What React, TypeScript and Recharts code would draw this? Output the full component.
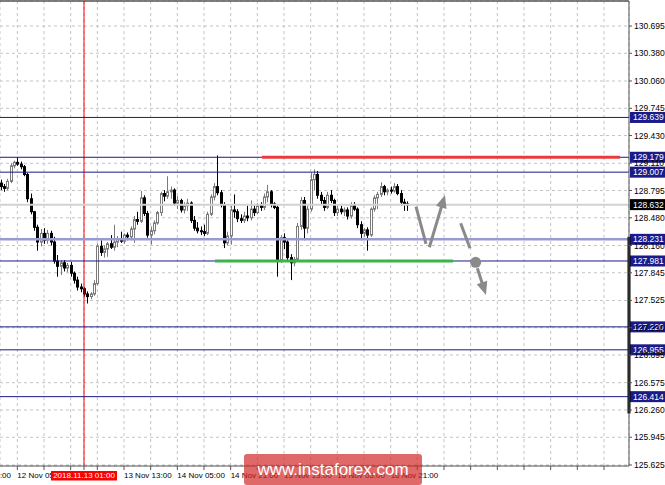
import React from 'react';
import { ComposedChart, Bar, XAxis, YAxis, CartesianGrid, ReferenceLine, ReferenceDot } from 'recharts';

const opens = [128.88,128.84,128.82,128.90,129.08,129.12,129.10,129.07,128.98,128.70,128.55,128.37,128.20,128.30,128.22,128.30,128.20,127.98,127.92,127.96,127.90,127.93,127.84,127.76,127.68,127.66,127.60,127.57,127.60,127.72,128.15,128.08,128.12,128.18,128.14,128.20,128.24,128.21,128.28,128.26,128.35,128.46,128.44,128.71,128.53,128.28,128.33,128.42,128.54,128.76,128.73,128.78,128.80,128.65,128.68,128.57,128.62,128.65,128.45,128.36,128.33,128.32,128.30,128.52,128.72,128.84,128.77,128.63,128.19,128.27,128.57,128.55,128.47,128.45,128.50,128.48,128.58,128.54,128.62,128.60,128.72,128.78,128.64,128.60,127.99,128.25,128.20,128.02,127.96,128.00,128.38,128.68,128.36,128.58,128.92,128.98,128.74,128.68,128.60,128.74,128.68,128.54,128.58,128.55,128.57,128.50,128.62,128.58,128.40,128.30,128.34,128.28,128.58,128.71,128.75,128.84,128.78,128.80,128.79,128.84,128.76,128.66,128.64];
const highs = [128.92,128.87,128.93,129.11,129.14,129.18,129.13,129.09,129.00,128.76,128.56,128.40,128.35,128.36,128.34,128.33,128.26,128.05,127.99,127.99,127.96,127.97,127.86,127.80,127.72,127.68,127.63,127.62,127.76,128.18,128.22,128.16,128.20,128.28,128.40,128.27,128.32,128.30,128.31,128.38,128.50,128.55,128.79,128.74,128.56,128.38,128.45,128.56,128.78,128.80,128.96,128.84,128.82,128.73,128.70,128.66,128.70,128.67,128.50,128.43,128.38,128.40,128.55,128.75,128.88,129.20,128.80,128.66,128.32,128.62,128.75,128.58,128.52,128.55,128.62,128.68,128.62,128.65,128.66,128.76,128.86,128.80,128.66,128.62,128.28,128.30,128.22,128.06,128.03,128.42,128.72,128.72,128.62,129.00,129.04,129.02,128.78,128.72,128.78,128.80,128.70,128.62,128.62,128.60,128.60,128.66,128.66,128.60,128.44,128.36,128.37,128.60,128.74,128.78,128.89,128.86,128.82,128.84,128.88,128.87,128.80,128.70,128.67];
const lows = [128.80,128.78,128.80,128.88,129.05,129.08,129.04,128.96,128.66,128.52,128.33,128.10,128.15,128.18,128.18,128.16,127.95,127.80,127.82,127.86,127.85,127.80,127.72,127.64,127.62,127.57,127.49,127.54,127.58,127.70,128.04,128.02,128.03,128.12,128.10,128.14,128.19,128.18,128.22,128.22,128.19,128.40,128.42,128.50,128.25,128.17,128.29,128.40,128.50,128.67,128.70,128.70,128.62,128.58,128.54,128.53,128.56,128.42,128.33,128.30,128.28,128.27,128.28,128.50,128.68,128.74,128.60,128.13,128.16,128.17,128.48,128.43,128.42,128.42,128.44,128.45,128.50,128.52,128.56,128.57,128.66,128.60,128.58,127.80,127.96,128.12,127.98,127.76,127.92,127.97,128.34,128.22,128.30,128.55,128.80,128.70,128.63,128.56,128.58,128.65,128.50,128.50,128.52,128.50,128.46,128.47,128.56,128.36,128.22,128.26,128.10,128.26,128.55,128.58,128.72,128.74,128.74,128.76,128.77,128.74,128.62,128.56,128.56];
const closes = [128.84,128.82,128.90,129.08,129.12,129.10,129.07,128.98,128.70,128.55,128.37,128.20,128.30,128.22,128.30,128.20,127.98,127.92,127.96,127.90,127.93,127.84,127.76,127.68,127.66,127.60,127.57,127.60,127.72,128.15,128.08,128.12,128.18,128.14,128.20,128.24,128.21,128.28,128.26,128.35,128.46,128.44,128.71,128.53,128.28,128.33,128.42,128.54,128.76,128.73,128.78,128.80,128.65,128.68,128.57,128.62,128.65,128.45,128.36,128.33,128.32,128.30,128.52,128.72,128.84,128.77,128.63,128.19,128.27,128.57,128.55,128.47,128.45,128.50,128.48,128.58,128.54,128.62,128.60,128.72,128.78,128.64,128.60,127.99,128.25,128.20,128.02,127.96,128.00,128.38,128.68,128.36,128.58,128.92,128.98,128.74,128.68,128.60,128.74,128.68,128.54,128.58,128.55,128.57,128.50,128.62,128.58,128.40,128.30,128.34,128.28,128.58,128.71,128.75,128.84,128.78,128.80,128.79,128.84,128.76,128.66,128.64,128.632];

const yTicks = [130.695, 130.38, 130.06, 129.745, 129.43, 129.11, 128.795, 128.48, 128.16, 127.845, 127.525, 127.21, 126.895, 126.575, 126.26, 125.945, 125.625];
const markerBar = 25;
const markerLabel = '2018.11.13 01:00';
const xTickValues = [-11, -3, 5, 13, 21, 25, 29, 37, 45, 53, 61, 69, 77, 85, 93, 101, 109, 117, 125, 133, 141, 149, 157, 165, 173, 181];
const xLabelValues = [-11, 5, 37, 53, 69, 85, 101, 117];
const xLabelTexts = ['11 Nov 13:00', '12 Nov 05:00', '13 Nov 13:00', '14 Nov 05:00', '14 Nov 21:00', '15 Nov 13:00', '16 Nov 05:00', '16 Nov 21:00'];

const navyLevels = [129.639, 129.179, 129.007, 127.981, 127.22, 126.955, 126.414];
const supportLevel = 128.231;
const bidPrice = 128.632;
const resistanceSegment = { price: 129.179, from: 78.4, to: 185.8 };
const supportSegment = { price: 127.981, from: 64.3, to: 135.7 };
const axisBand = { x: 188.5, from: 128.26, to: 126.22 };

const arrowUpLeg = [{ x: 124.6, y: 128.608 }, { x: 127.6, y: 128.178 }];
const arrowUp = [{ x: 128.6, y: 128.14 }, { x: 133.3, y: 128.744 }];
const arrowDownLeg = [{ x: 138.0, y: 128.417 }, { x: 140.8, y: 128.128 }];
const pivotDot = { x: 142.5, y: 127.966 };
const arrowDown = [{ x: 143.0, y: 127.897 }, { x: 145.6, y: 127.589 }];

const data = opens.map((o, i) => ({
  i,
  open: o,
  high: highs[i],
  low: lows[i],
  close: closes[i],
  range: [lows[i], highs[i]],
}));

const FONT = '"Liberation Sans", Arial, sans-serif';
const NAVY = '#1a1a88';
const ARROW = '#8a8a8a';

function Candle(props: any) {
  const { x, y, width, height, payload } = props;
  if (!payload) return <g />;
  const { open: o, close: c, high: h, low: l } = payload;
  const span = h - l;
  const k = span > 0 ? height / span : 0;
  const c0 = Math.round(x + width / 2) + 0.5;
  const yo = y + (h - o) * k;
  const yc = y + (h - c) * k;
  const bull = c >= o;
  const top = Math.min(yo, yc);
  const bh = Math.max(1, Math.abs(yo - yc));
  const col = bull ? '#7a7a7a' : '#000';
  return (
    <g>
      <line x1={c0} x2={c0} y1={y} y2={y + height} stroke={col} strokeWidth={1} />
      <rect x={c0 - 1} y={top} width={2} height={bh} fill={bull ? '#fff' : '#000'} stroke={col} strokeWidth={1} />
    </g>
  );
}

function XTick(props: any) {
  const { x, y, payload } = props;
  if (payload.value === markerBar) {
    return (
      <g>
        <rect x={x - 33} y={y - 1} width={66} height={9.5} fill="#ff0000" />
        <text x={x} y={y + 6.2} fontSize={8} fill="#fff" fontFamily={FONT} textAnchor="middle">{markerLabel}</text>
      </g>
    );
  }
  const idx = xLabelValues.indexOf(payload.value);
  if (idx < 0) return <g />;
  return (
    <text x={x} y={y} dy="0.71em" fontSize={8} fill="#000" fontFamily={FONT} textAnchor="start">
      {xLabelTexts[idx]}
    </text>
  );
}

function PriceTag(props: any) {
  const { viewBox, value, bg } = props;
  if (!viewBox) return <g />;
  const right = viewBox.x + viewBox.width;
  const yy = viewBox.y;
  return (
    <g>
      <rect x={right + 1} y={yy - 5.5} width={36} height={11} fill={bg} />
      <text x={right + 4} y={yy + 3} fontSize={8.5} fill="#fff" fontFamily={FONT}>{value.toFixed(3)}</text>
    </g>
  );
}

function ArrowShape(props: any) {
  const { x1, y1, x2, y2, head } = props;
  if ([x1, y1, x2, y2].some((v) => typeof v !== 'number' || isNaN(v))) return <g />;
  const dx = x2 - x1;
  const dy = y2 - y1;
  const len = Math.sqrt(dx * dx + dy * dy) || 1;
  const ux = dx / len;
  const uy = dy / len;
  const hl = 13;
  const hw = 5.5;
  const ex = head ? x2 - ux * (hl - 2) : x2;
  const ey = head ? y2 - uy * (hl - 2) : y2;
  const bx = x2 - ux * hl;
  const by = y2 - uy * hl;
  return (
    <g>
      <line x1={x1} y1={y1} x2={ex} y2={ey} stroke={ARROW} strokeWidth={3} />
      {head && (
        <polygon
          points={`${x2},${y2} ${bx - uy * hw},${by + ux * hw} ${bx + uy * hw},${by - ux * hw}`}
          fill={ARROW}
        />
      )}
    </g>
  );
}

export default function App() {
  return (
    <div style={{ position: 'absolute', left: 0, top: 0, width: 665, height: 485, background: '#fff', overflow: 'hidden' }}>
      <ComposedChart
        width={665}
        height={485}
        data={data}
        margin={{ top: 1, right: 0, bottom: 0, left: 0 }}
        style={{ fontFamily: FONT }}
      >
        <CartesianGrid stroke="#c4c4c4" strokeDasharray="3 3" />
        <XAxis
          dataKey="i"
          type="number"
          domain={[-0.2, 188.5]}
          allowDataOverflow
          ticks={xTickValues}
          interval={0}
          height={19}
          tickSize={4}
          tickMargin={2}
          tick={<XTick />}
          axisLine={{ stroke: '#555' }}
          tickLine={{ stroke: '#555' }}
        />
        <YAxis
          orientation="right"
          type="number"
          domain={[125.613, 130.984]}
          allowDataOverflow
          ticks={yTicks}
          interval={0}
          width={36}
          tickSize={3}
          tickMargin={2}
          tickFormatter={(v: number) => v.toFixed(3)}
          tick={{ fontSize: 8.5, fill: '#000', fontFamily: FONT, textAnchor: 'start' }}
          axisLine={{ stroke: '#555' }}
          tickLine={{ stroke: '#555' }}
        />
        <ReferenceLine y={130.984} stroke="#555" strokeWidth={1.5} ifOverflow="visible" />
        <ReferenceLine x={markerBar} stroke="#ff0000" strokeWidth={1} />
        <ReferenceLine y={bidPrice} stroke="#d2d2d2" strokeWidth={2} label={(p: any) => <PriceTag {...p} value={bidPrice} bg="#000" />} />
        <ReferenceLine y={supportLevel} stroke="#9a9ad2" strokeWidth={2.5} label={(p: any) => <PriceTag {...p} value={supportLevel} bg={NAVY} />} />
        {navyLevels.map((v) => (
          <ReferenceLine key={v} y={v} stroke={NAVY} strokeWidth={1} label={(p: any) => <PriceTag {...p} value={v} bg={NAVY} />} />
        ))}
        <ReferenceLine
          segment={[{ x: axisBand.x, y: axisBand.from }, { x: axisBand.x, y: axisBand.to }]}
          stroke="#000"
          strokeWidth={3}
          ifOverflow="visible"
        />
        <Bar dataKey="range" barSize={3} shape={<Candle />} isAnimationActive={false} />
        <ReferenceLine
          segment={[{ x: resistanceSegment.from, y: resistanceSegment.price }, { x: resistanceSegment.to, y: resistanceSegment.price }]}
          stroke="#e83c3c"
          strokeWidth={3}
        />
        <ReferenceLine
          segment={[{ x: supportSegment.from, y: supportSegment.price }, { x: supportSegment.to, y: supportSegment.price }]}
          stroke="#3cb44b"
          strokeWidth={3}
        />
        <ReferenceLine segment={arrowUpLeg} shape={(p: any) => <ArrowShape {...p} head={false} />} />
        <ReferenceLine segment={arrowUp} shape={(p: any) => <ArrowShape {...p} head={true} />} />
        <ReferenceLine segment={arrowDownLeg} shape={(p: any) => <ArrowShape {...p} head={false} />} />
        <ReferenceLine segment={arrowDown} shape={(p: any) => <ArrowShape {...p} head={true} />} />
        <ReferenceDot x={pivotDot.x} y={pivotDot.y} r={5.5} fill={ARROW} stroke="none" />
      </ComposedChart>
      <div
        style={{
          position: 'absolute',
          left: 244,
          top: 454,
          width: 178,
          height: 31,
          background: 'rgba(210, 40, 40, 0.7)',
          borderRadius: 3,
          color: '#fff',
          fontFamily: FONT,
          fontSize: 17,
          lineHeight: '31px',
          textAlign: 'center',
        }}
      >
        www.instaforex.com
      </div>
    </div>
  );
}
